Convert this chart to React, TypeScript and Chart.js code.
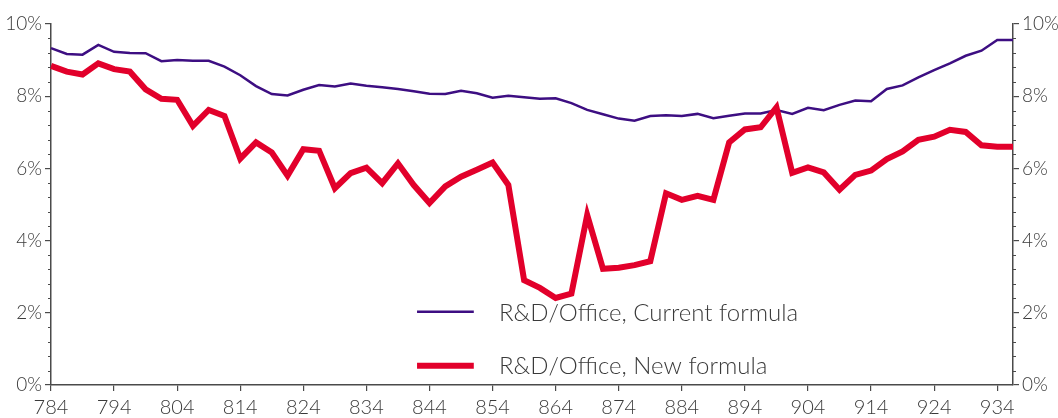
import React, { useEffect, useRef } from 'react';
import { Chart, registerables } from 'chart.js';

Chart.register(...registerables);

const tickLabels = ['784', '794', '804', '814', '824', '834', '844', '854', '864', '874', '884', '894', '904', '914', '924', '934'];

const currentFormula = [
  9.33, 9.17, 9.15, 9.42, 9.23, 9.20, 9.19, 8.97, 9.00, 8.98,
  8.98, 8.82, 8.58, 8.28, 8.06, 8.02, 8.18, 8.31, 8.27, 8.35,
  8.29, 8.25, 8.20, 8.14, 8.07, 8.06, 8.15, 8.08, 7.96, 8.01,
  7.97, 7.93, 7.94, 7.81, 7.62, 7.50, 7.38, 7.32, 7.45, 7.47,
  7.45, 7.51, 7.39, 7.46, 7.52, 7.52, 7.62, 7.51, 7.68, 7.61,
  7.76, 7.88, 7.86, 8.20, 8.30, 8.52, 8.72, 8.91, 9.12, 9.26,
  9.56, 9.56,
];

const newFormula = [
  8.84, 8.68, 8.60, 8.91, 8.75, 8.68, 8.19, 7.93, 7.90, 7.18,
  7.62, 7.45, 6.27, 6.72, 6.44, 5.80, 6.53, 6.49, 5.45, 5.87,
  6.02, 5.59, 6.14, 5.54, 5.04, 5.50, 5.77, 5.96, 6.16, 5.54,
  2.90, 2.69, 2.41, 2.53, 4.71, 3.22, 3.25, 3.32, 3.43, 5.31,
  5.13, 5.24, 5.13, 6.72, 7.08, 7.14, 7.69, 5.88, 6.03, 5.89,
  5.41, 5.82, 5.94, 6.26, 6.47, 6.79, 6.88, 7.07, 7.01, 6.64,
  6.60, 6.60,
];

const seriesNames = ['R&D/Office, Current formula', 'R&D/Office, New formula'];
const pointsPerLabel = 4;
const categories = currentFormula.map((_, i) => (i % pointsPerLabel === 0 ? tickLabels[i / pointsPerLabel] ?? '' : ''));

const yMin = 0;
const yMax = 10;
const yMajorStep = 2;
const yMinorStep = 0.4;

const PURPLE = '#3d0e82';
const RED = '#e2002b';
const AXIS = '#4a4a4a';
const TEXT = '#3a3a3a';
const FONT = 'Lato';

const minorTicksPlugin = {
  id: 'minorTicks',
  afterDraw(chart: any) {
    const ctx = chart.ctx;
    const ys = chart.scales.y;
    const { left, right } = chart.chartArea;
    ctx.save();
    ctx.strokeStyle = AXIS;
    ctx.lineWidth = 1;
    const n = Math.round((yMax - yMin) / yMinorStep);
    for (let k = 0; k <= n; k++) {
      const v = yMin + k * yMinorStep;
      if (Math.abs(v / yMajorStep - Math.round(v / yMajorStep)) < 1e-6) continue;
      const py = Math.round(ys.getPixelForValue(v)) + 0.5;
      ctx.beginPath();
      ctx.moveTo(left - 3, py);
      ctx.lineTo(left, py);
      ctx.moveTo(right, py);
      ctx.lineTo(right + 3, py);
      ctx.stroke();
    }
    ctx.restore();
  },
};

const legendPlugin = {
  id: 'customLegend',
  afterDraw(chart: any) {
    const ctx = chart.ctx;
    const { left, right, top, bottom } = chart.chartArea;
    const w = right - left;
    const h = bottom - top;
    const x0 = left + w * 0.3805;
    const x1 = left + w * 0.4395;
    const tx = left + w * 0.4657;
    const rows = [
      { y: top + h * 0.7973, color: PURPLE, width: 2.5, label: seriesNames[0] },
      { y: top + h * 0.9467, color: RED, width: 6, label: seriesNames[1] },
    ];
    ctx.save();
    ctx.font = `300 24px ${FONT}`;
    ctx.textBaseline = 'middle';
    ctx.fillStyle = TEXT;
    rows.forEach((r) => {
      ctx.beginPath();
      ctx.strokeStyle = r.color;
      ctx.lineWidth = r.width;
      ctx.moveTo(x0, r.y);
      ctx.lineTo(x1, r.y);
      ctx.stroke();
      ctx.fillText(r.label, tx, r.y + 1);
    });
    ctx.restore();
  },
};

export default function App() {
  const ref = useRef<HTMLCanvasElement>(null);

  useEffect(() => {
    if (!ref.current) return;
    const yAxis = (position: 'left' | 'right', width: number) => ({
      type: 'linear' as const,
      position,
      min: yMin,
      max: yMax,
      grid: { drawOnChartArea: false, drawTicks: true, tickLength: 6, color: AXIS, lineWidth: 1.2 },
      border: { display: true, color: AXIS, width: 1.5 },
      ticks: {
        stepSize: yMajorStep,
        padding: 3,
        color: TEXT,
        font: { family: FONT, size: 19, weight: '300' },
        callback: (v: any) => `${v}%`,
      },
      afterFit: (s: any) => {
        s.width = width;
      },
    });

    const chart = new Chart(ref.current, {
      type: 'line',
      data: {
        labels: categories,
        datasets: [
          {
            label: seriesNames[0],
            data: currentFormula,
            borderColor: PURPLE,
            borderWidth: 2.5,
            pointRadius: 0,
            tension: 0,
            order: 2,
            yAxisID: 'y',
          },
          {
            label: seriesNames[1],
            data: newFormula,
            borderColor: RED,
            borderWidth: 6,
            pointRadius: 0,
            tension: 0,
            order: 1,
            yAxisID: 'y',
          },
        ],
      },
      options: {
        animation: false,
        responsive: false,
        layout: { padding: { top: 24, left: 0, right: 0, bottom: 0 } },
        plugins: { legend: { display: false }, tooltip: { enabled: false } },
        scales: {
          x: {
            type: 'category',
            offset: false,
            grid: { drawOnChartArea: false, drawTicks: true, tickLength: 6, color: AXIS, lineWidth: 1.2 },
            border: { display: true, color: AXIS, width: 1.5 },
            ticks: {
              autoSkip: false,
              maxRotation: 0,
              padding: 5,
              color: TEXT,
              font: { family: FONT, size: 20, weight: '300' },
              callback: (_v: any, i: number) => (categories[i] ? categories[i] : null),
            },
            afterFit: (s: any) => {
              s.height = 33;
            },
          },
          y: yAxis('left', 51),
          y2: yAxis('right', 45),
        },
      },
      plugins: [minorTicksPlugin, legendPlugin],
    });
    return () => chart.destroy();
  }, []);

  return (
    <div style={{ position: 'absolute', left: 0, top: 0, width: 1058, height: 418, background: '#fff' }}>
      <canvas ref={ref} width={1058} height={418} style={{ display: 'block' }} />
    </div>
  );
}
